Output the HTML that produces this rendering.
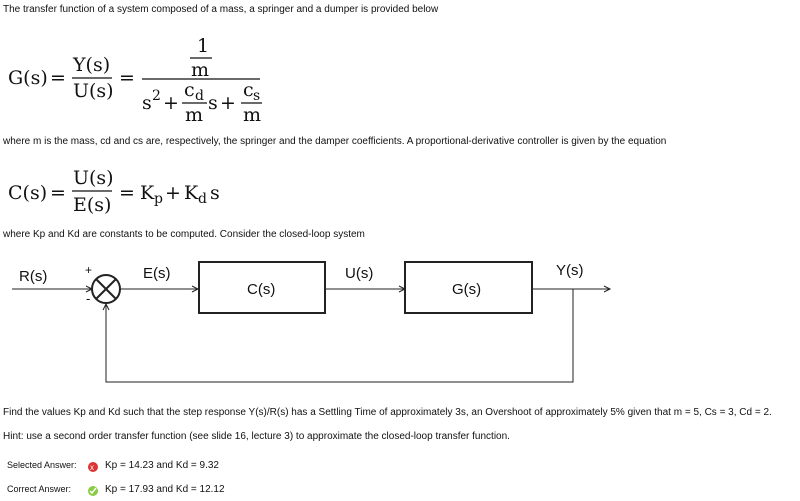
<!DOCTYPE html>
<html><head><style>
body{margin:0;background:#fff;width:800px;height:501px;overflow:hidden}
svg{display:block}
.t{font-family:"Liberation Sans",sans-serif;font-size:10px;fill:#111}
.m{font-family:"DejaVu Serif","Liberation Serif",serif;font-size:19px;fill:#111}
.ms{font-family:"DejaVu Serif","Liberation Serif",serif;font-size:14px;fill:#111}
.d{font-family:"Liberation Sans",sans-serif;font-size:15px;fill:#111}
</style></head><body>
<svg width="800" height="501" viewBox="0 0 800 501">
<text class="t" x="3" y="12">The transfer function of a system composed of a mass, a springer and a dumper is provided below</text>
<text class="m" x="8" y="84">G(s)</text>
<text class="m" x="50" y="84">=</text>
<text class="m" x="73" y="71">Y(s)</text>
<line x1="72" y1="78" x2="112" y2="78" stroke="#111" stroke-width="1.2"/>
<text class="m" x="73" y="97">U(s)</text>
<text class="m" x="119" y="84">=</text>
<text class="m" x="197" y="52">1</text>
<line x1="190" y1="58" x2="212" y2="58" stroke="#111" stroke-width="1.2"/>
<text class="m" x="191" y="76">m</text>
<line x1="142" y1="79" x2="260" y2="79" stroke="#111" stroke-width="1.2"/>
<text class="m" x="142" y="109">s</text><text class="ms" x="152" y="100">2</text>
<text class="m" x="163" y="109">+</text>
<text class="m" x="184" y="96">c</text><text class="ms" x="195" y="100">d</text>
<line x1="182" y1="103" x2="207" y2="103" stroke="#111" stroke-width="1.2"/>
<text class="m" x="185" y="121">m</text>
<text class="m" x="208" y="109">s</text>
<text class="m" x="220" y="109">+</text>
<text class="m" x="243" y="96">c</text><text class="ms" x="253" y="100">s</text>
<line x1="241" y1="103" x2="262" y2="103" stroke="#111" stroke-width="1.2"/>
<text class="m" x="243" y="121">m</text>
<text class="t" x="3" y="144">where m is the mass, cd and cs are, respectively, the springer and the damper coefficients. A proportional-derivative controller is given by the equation</text>
<text class="m" x="8" y="199">C(s)</text>
<text class="m" x="50" y="199">=</text>
<text class="m" x="73" y="184">U(s)</text>
<line x1="72" y1="191" x2="112" y2="191" stroke="#111" stroke-width="1.2"/>
<text class="m" x="73" y="211">E(s)</text>
<text class="m" x="119" y="199">=</text>
<text class="m" x="140" y="199">K</text><text class="ms" x="154" y="203">p</text>
<text class="m" x="165" y="199">+</text>
<text class="m" x="184" y="199">K</text><text class="ms" x="198" y="203">d</text>
<text class="m" x="210" y="199">s</text>
<text class="t" x="3" y="237">where Kp and Kd are constants to be computed. Consider the closed-loop system</text>
<g stroke="#222" stroke-width="1" fill="none">
<line x1="12" y1="289" x2="92" y2="289"/><polyline points="86,286 92,289 86,292"/>
<circle cx="106" cy="289" r="14" stroke-width="2"/>
<line x1="96" y1="279" x2="116" y2="299" stroke-width="2"/><line x1="116" y1="279" x2="96" y2="299" stroke-width="2"/>
<line x1="120" y1="289" x2="198" y2="289"/><polyline points="192,286 198,289 192,292"/>
<rect x="199" y="262" width="126" height="51" stroke-width="2"/>
<line x1="325" y1="289" x2="405" y2="289"/><polyline points="399,286 405,289 399,292"/>
<rect x="405" y="262" width="127" height="51" stroke-width="2"/>
<line x1="532" y1="289" x2="610" y2="289"/><polyline points="604,286 610,289 604,292"/>
<polyline points="573,289 573,382 106,382 106,304"/><polyline points="103,310 106,304 109,310"/>
</g>
<text class="d" x="19" y="281">R(s)</text>
<text class="d" x="85" y="274" style="font-size:12px">+</text>
<text class="d" x="86" y="303" style="font-size:13px">-</text>
<text class="d" x="143" y="278">E(s)</text>
<text class="d" x="247" y="294">C(s)</text>
<text class="d" x="345" y="278">U(s)</text>
<text class="d" x="452" y="294">G(s)</text>
<text class="d" x="556" y="275">Y(s)</text>
<text class="t" x="3" y="415">Find the values Kp and Kd such that the step response Y(s)/R(s) has a Settling Time of approximately 3s, an Overshoot of approximately 5% given that m = 5, Cs = 3, Cd = 2.</text>
<text class="t" x="3" y="439">Hint: use a second order transfer function (see slide 16, lecture 3) to approximate the closed-loop transfer function.</text>
<text class="t" x="7" y="468" style="font-size:9px">Selected Answer:</text>
<circle cx="93" cy="467" r="5" fill="#d33"/><text x="90" y="470" style="font-size:8px;fill:#fff;font-family:Liberation Sans">x</text>
<text class="t" x="105" y="468">Kp = 14.23 and Kd = 9.32</text>
<text class="t" x="7" y="492" style="font-size:9px">Correct Answer:</text>
<circle cx="93" cy="491" r="5" fill="#8c4"/><polyline points="90,491 92,493 96,488" stroke="#fff" stroke-width="1.5" fill="none"/>
<text class="t" x="105" y="492">Kp = 17.93 and Kd = 12.12</text>
</svg>
</body></html>
